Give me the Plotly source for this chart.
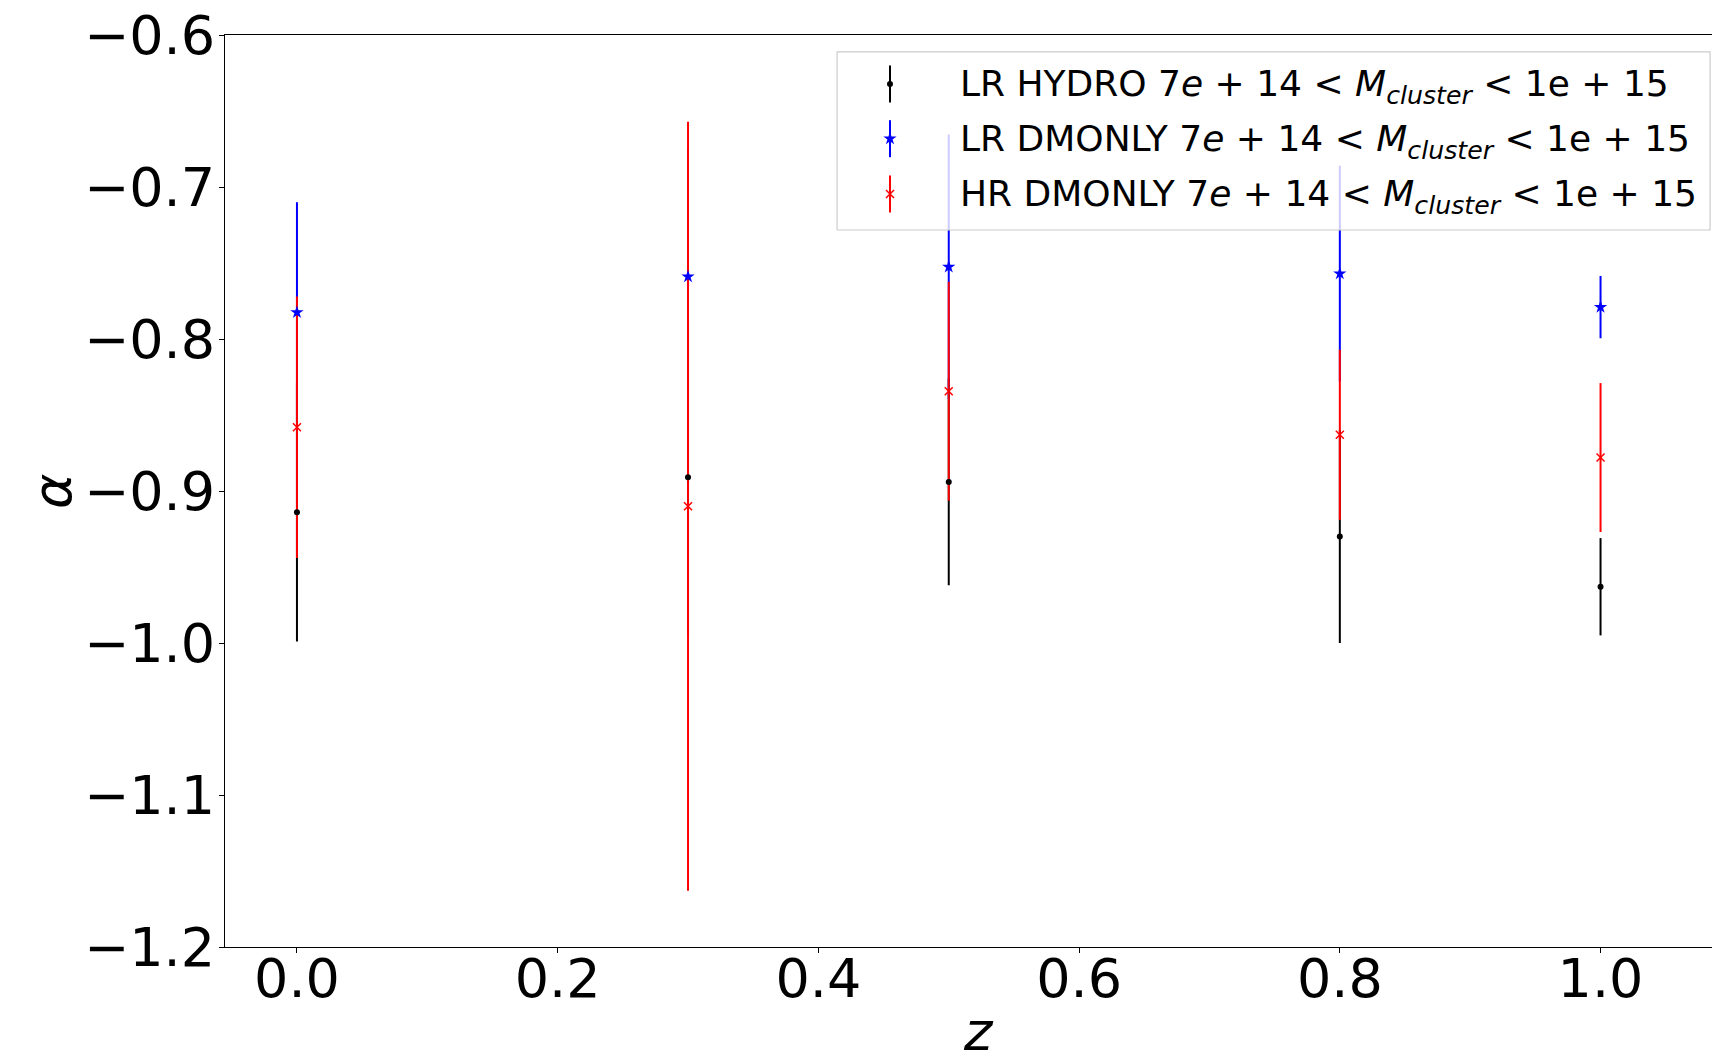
import plotly.graph_objects as go

# ---- data ----
z = [0.0, 0.3, 0.5, 0.8, 1.0]
hydro_lr = [-0.914, -0.891, -0.894, -0.930, -0.963]
hydro_lr_err = [0.085, 0.103, 0.068, 0.070, 0.032]
dmo_lr = [-0.7825, -0.759, -0.7525, -0.757, -0.779]
dmo_lr_err = [0.0725, 0.084, 0.087, 0.071, 0.0205]
dmo_hr = [-0.858, -0.910, -0.8344, -0.863, -0.878]
dmo_hr_err = [0.086, 0.253, 0.072, 0.056, 0.049]

labels = [
    "LR HYDRO 7<i>e</i> + 14 &lt; <i>M</i><sub><i>cluster</i></sub> &lt; 1e + 15",
    "LR DMONLY 7<i>e</i> + 14 &lt; <i>M</i><sub><i>cluster</i></sub> &lt; 1e + 15",
    "HR DMONLY 7<i>e</i> + 14 &lt; <i>M</i><sub><i>cluster</i></sub> &lt; 1e + 15",
]
colors = ["#000000", "#0000ff", "#ff0000"]
symbols = ["circle", "star", "x-thin"]
msizes = [6, 10, 8]

yticks = [-1.2, -1.1, -1.0, -0.9, -0.8, -0.7, -0.6]
xticks = [0.0, 0.2, 0.4, 0.6, 0.8, 1.0]

series = [(hydro_lr, hydro_lr_err), (dmo_lr, dmo_lr_err), (dmo_hr, dmo_hr_err)]

W, H = 1712, 1060
ML, MR, MT, MB = 225, 0, 35, 113

fig = go.Figure()

# error bars first (all beneath markers, like matplotlib)
for (vals, errs), c in zip(series, colors):
    fig.add_trace(go.Scatter(
        x=z, y=vals, mode="markers",
        marker=dict(size=1, color="rgba(0,0,0,0)"),
        error_y=dict(type="data", array=errs, visible=True, color=c,
                     thickness=2, width=0),
        showlegend=False, hoverinfo="skip"))

for (vals, errs), c, s, ms in zip(series, colors, symbols, msizes):
    fig.add_trace(go.Scatter(
        x=z, y=vals, mode="markers",
        marker=dict(symbol=s, size=ms, color=c,
                    line=dict(color=c, width=1.5 if s == "x-thin" else 0)),
        showlegend=False))

# ---- custom legend (overlay axes in [0,1] plot-fraction coords) ----
bx0, bx1 = 0.4116, 0.9987
by0, by1 = 0.7862, 0.9814
fig.add_trace(go.Scatter(
    x=[bx0, bx1, bx1, bx0, bx0], y=[by0, by0, by1, by1, by0],
    mode="lines", fill="toself", fillcolor="rgba(255,255,255,0.8)",
    line=dict(color="#cccccc", width=1.2),
    xaxis="x2", yaxis="y2", showlegend=False, hoverinfo="skip"))

gx = 0.4472
rows = [0.9463, 0.8863, 0.8257]
half = 0.0203
for ry, c, s, ms in zip(rows, colors, symbols, msizes):
    fig.add_trace(go.Scatter(
        x=[gx], y=[ry], mode="markers",
        marker=dict(symbol=s, size=ms, color=c,
                    line=dict(color=c, width=1.5 if s == "x-thin" else 0)),
        error_y=dict(type="constant", value=half, color=c, thickness=2, width=0),
        xaxis="x2", yaxis="y2", showlegend=False, hoverinfo="skip"))

for ry, lab in zip(rows, labels):
    fig.add_annotation(x=0.4929, y=ry - 0.003, xref="paper", yref="paper",
                       text=lab, showarrow=False, xanchor="left", yanchor="middle",
                       font=dict(size=36, color="black", family="DejaVu Sans"))

# axis titles
fig.add_annotation(x=-0.1163, y=0.5, xref="paper", yref="paper", text="<i>α</i>",
                   showarrow=False, textangle=-90, xanchor="center", yanchor="middle",
                   font=dict(size=54, color="black", family="DejaVu Sans"))
fig.add_annotation(x=0.5068, y=-0.0925, xref="paper", yref="paper", text="<i>z</i>",
                   showarrow=False, xanchor="center", yanchor="middle",
                   font=dict(size=54, color="black", family="DejaVu Sans"))

axis_common = dict(showline=True, linecolor="black", linewidth=1.2, mirror=True,
                   ticks="outside", ticklen=5, tickwidth=1.2, tickcolor="black",
                   showgrid=False, zeroline=False,
                   tickfont=dict(size=54, color="black", family="DejaVu Sans"))

fig.update_layout(
    width=W, height=H,
    margin=dict(l=ML, r=MR, t=MT, b=MB, autoexpand=False),
    paper_bgcolor="white", plot_bgcolor="white",
    font=dict(family="DejaVu Sans", color="black"),
    xaxis=dict(range=[-0.0552, 1.0855], tickvals=xticks, tickformat=".1f",
               ticklabelstandoff=-21, automargin=False, **axis_common),
    yaxis=dict(range=[-1.2, -0.6], tickvals=yticks, tickformat=".1f",
               ticklabelstandoff=-7, automargin=False, **axis_common),
    xaxis2=dict(range=[0, 1], overlaying="x", visible=False, fixedrange=True),
    yaxis2=dict(range=[0, 1], overlaying="y", visible=False, fixedrange=True),
)

fig.write_html("out.html")
